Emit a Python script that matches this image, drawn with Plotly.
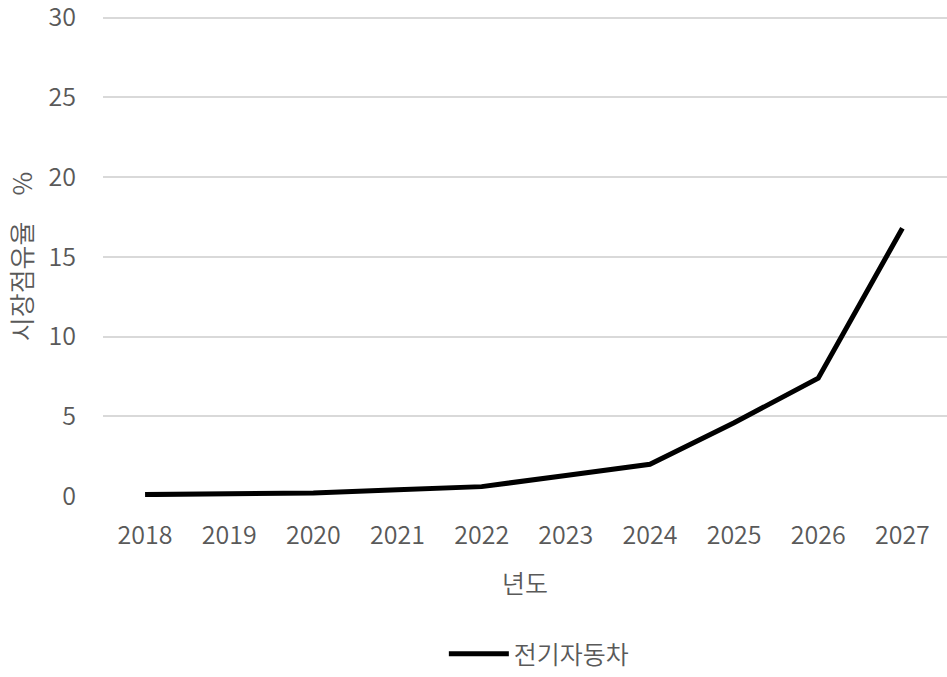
import plotly.graph_objects as go

# Market share of electric vehicles by year (%)
years = ["2018", "2019", "2020", "2021", "2022", "2023", "2024", "2025", "2026", "2027"]
ev_share = [0.1, 0.15, 0.2, 0.4, 0.6, 1.3, 2.0, 4.6, 7.4, 16.8]

y_ticks = [0, 5, 10, 15, 20, 25, 30]

FONT = "Noto Sans CJK KR"
GRAY = "#595959"
TEXT_FONT = dict(family=FONT, size=25, color=GRAY, weight=350)
YTITLE_FONT = dict(family=FONT, size=26, color=GRAY, weight=350)

fig = go.Figure()
fig.add_trace(go.Scatter(
    x=years,
    y=ev_share,
    mode="lines",
    name="전기자동차",
    line=dict(color="#000000", width=5),
))

fig.update_layout(
    width=947,
    height=677,
    margin=dict(l=103, r=0, t=16.4, b=180.2, autoexpand=False),
    paper_bgcolor="white",
    plot_bgcolor="white",
    font=TEXT_FONT,
    showlegend=True,
    legend=dict(
        orientation="h",
        x=0.517, xanchor="center",
        yref="container",
        y=0.0, yanchor="bottom",
        font=TEXT_FONT,
        itemwidth=60,
    ),
    xaxis=dict(
        type="category",
        range=[-0.5, 9.53],
        automargin=False,
        showgrid=False,
        showline=False,
        ticks="",
        ticklabelstandoff=21,
        tickfont=TEXT_FONT,
        title=dict(text="년도", font=TEXT_FONT, standoff=25),
        zeroline=False,
    ),
    yaxis=dict(
        range=[-0.05, 30.1],
        tickvals=y_ticks,
        showgrid=True,
        gridcolor="#d9d9d9",
        gridwidth=1.5,
        showline=False,
        zeroline=False,
        ticks="",
        ticklabelstandoff=26,
        ticklabeloverflow="allow",
        tickfont=TEXT_FONT,
        title=dict(text="시장점유율\u3000%", font=YTITLE_FONT, standoff=8),
    ),
)

fig.write_html("out.html")
